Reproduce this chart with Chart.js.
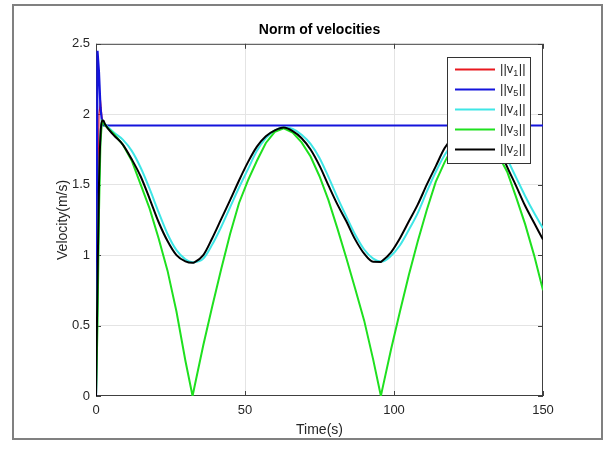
<!DOCTYPE html>
<html>
<head>
<meta charset="utf-8">
<script src="https://cdn.jsdelivr.net/npm/chart.js"></script>
<style>
  html, body { margin:0; padding:0; background:#fff; }
</style>
</head>
<body>
<canvas id="chartVel" width="610" height="454"></canvas>
<script>
// --- values ---
const xTicks = [0, 50, 100, 150];
const xTickLabels = ['0', '50', '100', '150'];
const yTicks = [0, 0.5, 1, 1.5, 2, 2.5];
const yTickLabels = ['0', '0.5', '1', '1.5', '2', '2.5'];

// v1 / v5 settle almost at once, so a short time base is enough
const timeFast = [0, 0.5, 1, 1.5, 2, 2.5, 150];
const v1 = [0, 1.0, 2.0, 2.1, 1.98, 1.92, 1.92];
const v5 = [0, 2.45, 2.3, 2.05, 1.95, 1.92, 1.92];

const timeS = [0,0.5,1,1.5,2,2.5,3,6,9,12,15,18,21,24,27,30,32.4,33,36,39,42,45,48,51,54,57,60,63,66,69,72,75,78,81,84,87,90,93,95.6,96,99,102,105,108,111,114,117,120,123,126,129,132,135,138,141,144,147,150];
const v4 = [0,0.7,1.45,1.85,1.94,1.94,1.93,1.87,1.82,1.74,1.62,1.47,1.305,1.15,1.035,0.97,0.95,0.95,0.975,1.075,1.2,1.34,1.48,1.61,1.74,1.83,1.885,1.905,1.895,1.855,1.79,1.69,1.555,1.41,1.275,1.145,1.04,0.975,0.955,0.955,0.995,1.07,1.18,1.3,1.45,1.59,1.71,1.8,1.86,1.895,1.905,1.875,1.8,1.68,1.55,1.42,1.3,1.19];
const v3 = [0,0.5,1.3,1.8,1.95,1.94,1.92,1.86,1.785,1.67,1.5,1.33,1.12,0.89,0.6,0.25,0,0.06,0.36,0.635,0.9,1.15,1.37,1.53,1.67,1.796,1.875,1.9,1.87,1.8,1.7,1.56,1.39,1.19,0.98,0.76,0.535,0.26,0,0.04,0.33,0.6,0.86,1.1,1.32,1.52,1.66,1.78,1.86,1.9,1.875,1.81,1.71,1.59,1.41,1.22,1.0,0.75];
const v2 = [0,0.8,1.5,1.85,1.95,1.955,1.93,1.85,1.785,1.68,1.558,1.4,1.235,1.1,1.0,0.955,0.945,0.948,1.0,1.12,1.255,1.39,1.53,1.66,1.77,1.843,1.885,1.905,1.88,1.83,1.75,1.635,1.495,1.36,1.24,1.11,1.01,0.953,0.952,0.958,1.02,1.12,1.24,1.36,1.5,1.63,1.76,1.84,1.885,1.905,1.885,1.845,1.77,1.625,1.49,1.35,1.23,1.11];

const FONT = '"Liberation Sans", Arial, sans-serif';

function pts(t, v) { return t.map((x, i) => ({x: x, y: v[i]})); }

// legend order = dataset order; lower `order` is drawn on top
const datasets = [
  {label:'1', data:pts(timeFast, v1), borderColor:'#e8191f', borderWidth:1.2, order:5, tension:0},
  {label:'5', data:pts(timeFast, v5), borderColor:'#1414dc', borderWidth:2.2, order:4, tension:0},
  {label:'4', data:pts(timeS, v4), borderColor:'#3fe6e6', order:3, cubicInterpolationMode:'monotone'},
  {label:'3', data:pts(timeS, v3), borderColor:'#1fe01f', order:2, tension:0},
  {label:'2', data:pts(timeS, v2), borderColor:'#000000', order:1, cubicInterpolationMode:'monotone'}
];

const edgeFree = (lo, hi) => (c) => (c.tick && (c.tick.value === lo || c.tick.value === hi)) ? 'rgba(0,0,0,0)' : '#e4e4e4';

// outer figure frame, axes box with inward ticks, and the boxed legend
const matlabLook = {
  id: 'matlabLook',
  beforeDraw(chart) {
    const c = chart.ctx;
    c.save();
    c.fillStyle = '#fff';
    c.fillRect(0, 0, chart.width, chart.height);
    c.strokeStyle = '#808080';
    c.lineWidth = 2;
    c.strokeRect(13, 5, 589, 434);
    c.restore();
  },
  beforeDatasetsDraw(chart) {
    const {ctx: c, chartArea: a, scales: {x, y}} = chart;
    c.save();
    c.strokeStyle = '#404040';
    c.lineWidth = 1;
    c.strokeRect(a.left + 0.5, a.top + 0.5, a.right - a.left - 1, a.bottom - a.top - 1);
    c.beginPath();
    xTicks.forEach(v => {
      const px = Math.round(x.getPixelForValue(v)) + 0.5;
      c.moveTo(px, a.bottom); c.lineTo(px, a.bottom - 5);
      c.moveTo(px, a.top); c.lineTo(px, a.top + 5);
    });
    yTicks.forEach(v => {
      const py = Math.round(y.getPixelForValue(v)) + 0.5;
      c.moveTo(a.left, py); c.lineTo(a.left + 5, py);
      c.moveTo(a.right, py); c.lineTo(a.right - 5, py);
    });
    c.stroke();
    c.restore();
  },
  afterDraw(chart) {
    const c = chart.ctx;
    const bx = 447, by = 57, bw = 83, bh = 106;
    c.save();
    c.fillStyle = '#fff';
    c.fillRect(bx, by, bw, bh);
    c.strokeStyle = '#333';
    c.lineWidth = 1;
    c.strokeRect(bx + 0.5, by + 0.5, bw, bh);
    chart.data.datasets.forEach((ds, i) => {
      const yy = by + 12.5 + i * 20;
      c.strokeStyle = ds.borderColor;
      c.lineWidth = 2;
      c.beginPath(); c.moveTo(455, yy); c.lineTo(495, yy); c.stroke();
      c.fillStyle = '#262626';
      c.textBaseline = 'middle';
      c.font = '13px ' + FONT;
      c.fillText('||v', 500, yy);
      let w = c.measureText('||v').width;
      c.font = '9px ' + FONT;
      c.fillText(ds.label, 500 + w, yy + 4);
      w += c.measureText(ds.label).width;
      c.font = '13px ' + FONT;
      c.fillText('||', 500 + w + 0.5, yy);
    });
    c.restore();
  }
};

const chartVel = new Chart(document.getElementById('chartVel').getContext('2d'), {
  type: 'line',
  data: {datasets: datasets},
  plugins: [matlabLook],
  options: {
    responsive: false,
    animation: false,
    devicePixelRatio: 1,
    layout: {padding: {left: 50, right: 67, top: 0, bottom: 0}},
    elements: {point: {radius: 0}, line: {borderWidth: 2}},
    plugins: {
      legend: {display: false},
      tooltip: {enabled: false},
      title: {display: true, text: 'Norm of velocities', fullSize: false, color: '#000',
              font: {family: FONT, size: 14, weight: 'bold'}, padding: {top: 22, bottom: 5}}
    },
    scales: {
      x: {
        type: 'linear', min: 0, max: 150,
        afterBuildTicks: s => { s.ticks = xTicks.map(v => ({value: v})); },
        afterFit: s => { s.height = 58; },
        border: {display: false},
        grid: {color: edgeFree(0, 150), drawTicks: false},
        ticks: {color: '#262626', padding: 7, maxRotation: 0, font: {family: FONT, size: 13},
                callback: (v, i) => xTickLabels[i]},
        title: {display: true, text: 'Time(s)', color: '#262626', font: {family: FONT, size: 14}, padding: {top: 2, bottom: 15}}
      },
      y: {
        type: 'linear', min: 0, max: 2.5,
        afterBuildTicks: s => { s.ticks = yTicks.map(v => ({value: v})); },
        afterFit: s => { s.width = 46; },
        border: {display: false},
        grid: {color: edgeFree(0, 2.5), drawTicks: false},
        ticks: {color: '#262626', padding: 6, font: {family: FONT, size: 13},
                callback: (v, i) => yTickLabels[i]},
        title: {display: true, text: 'Velocity(m/s)', color: '#262626', font: {family: FONT, size: 14}, padding: {top: 5, bottom: 0}}
      }
    }
  }
});
</script>
</body>
</html>
